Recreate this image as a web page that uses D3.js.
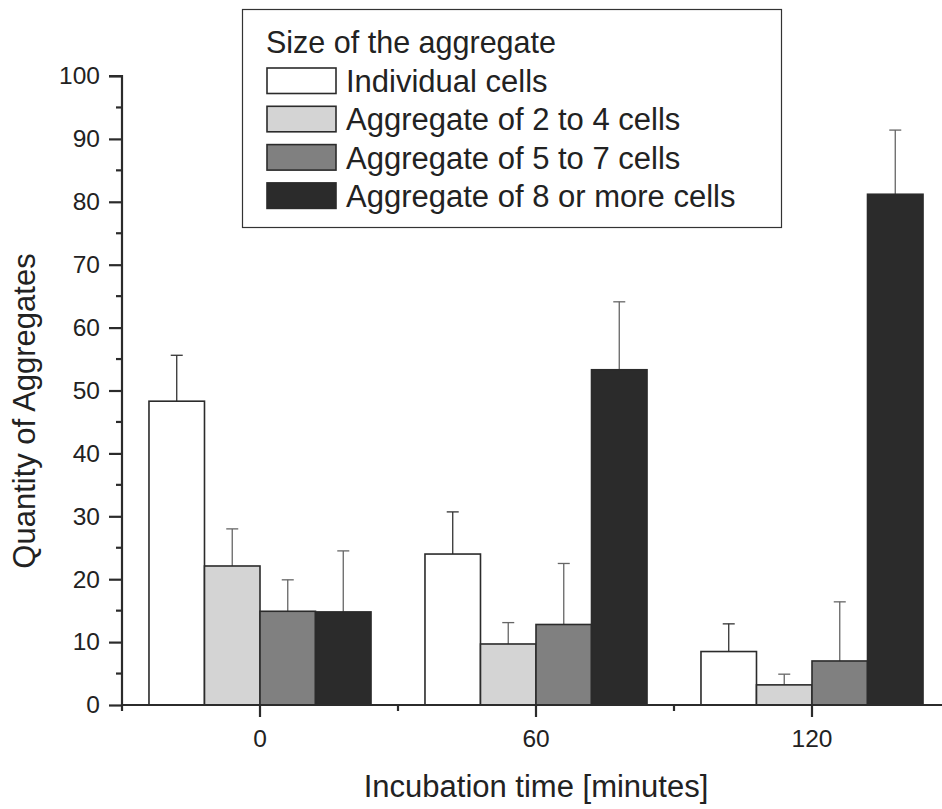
<!DOCTYPE html>
<html>
<head>
<meta charset="utf-8">
<script src="https://cdn.jsdelivr.net/npm/d3@7"></script>
<style>
  body { margin: 0; background: #fff; }
  svg { display: block; font-family: "Liberation Sans", Arial, sans-serif; }
</style>
</head>
<body>
<svg width="942" height="809"></svg>
<script>
const svg = d3.select("svg");

// data
const times = ["0", "60", "120"];
const sizes = ["Individual cells", "Aggregate of 2 to 4 cells", "Aggregate of 5 to 7 cells", "Aggregate of 8 or more cells"];
const means = [
    [48.3, 24.0, 8.5],   // individual
    [22.1, 9.7, 3.2],    // 2-4
    [14.9, 12.8, 7.0],   // 5-7
    [14.8, 53.3, 81.2]   // 8+
];
const errors = [
    [7.3, 6.7, 4.4],
    [5.9, 3.4, 1.7],
    [5.0, 9.7, 9.4],
    [9.7, 10.8, 10.2]
];
const fills = ["#ffffff", "#d4d4d4", "#808080", "#2b2b2b"];
const yTicks = d3.range(0, 101, 10);

const mLeft = 122, mBottom = 705, mTop = 76;

const x = d3.scaleBand().domain(times).range([mLeft, mLeft + 276 * 3]).paddingInner(0).paddingOuter(0);
const xs = d3.scaleBand().domain(d3.range(4)).range([0, x.bandwidth()]).paddingInner(0).paddingOuter(0.486);
const y = d3.scaleLinear().domain([0, 100]).range([mBottom, mTop]);

// bars
const rows = [];
sizes.forEach((s, i) => times.forEach((t, j) => rows.push({ s: i, t: t, v: means[i][j], e: errors[i][j] })));

const g = svg.append("g");

// error bars (upper only), drawn under bars
const eb = g.selectAll(".err").data(rows).enter().append("g")
    .attr("stroke", d => d.s === 0 ? "#333" : "#666")
    .attr("stroke-width", 1.3);
eb.append("line")
    .attr("x1", d => x(d.t) + xs(d.s) + xs.bandwidth() / 2)
    .attr("x2", d => x(d.t) + xs(d.s) + xs.bandwidth() / 2)
    .attr("y1", d => y(d.v))
    .attr("y2", d => y(d.v + d.e));
eb.append("line")
    .attr("x1", d => x(d.t) + xs(d.s) + xs.bandwidth() / 2 - 6)
    .attr("x2", d => x(d.t) + xs(d.s) + xs.bandwidth() / 2 + 6)
    .attr("y1", d => y(d.v + d.e))
    .attr("y2", d => y(d.v + d.e));

g.selectAll(".bar").data(rows).enter().append("rect")
    .attr("x", d => x(d.t) + xs(d.s))
    .attr("y", d => y(d.v))
    .attr("width", xs.bandwidth())
    .attr("height", d => mBottom - y(d.v))
    .attr("fill", d => fills[d.s])
    .attr("stroke", "#2b2b2b")
    .attr("stroke-width", 1.6);

// y axis
const yAxis = svg.append("g")
    .attr("transform", `translate(${mLeft},0)`)
    .call(d3.axisLeft(y).tickValues(yTicks).tickSize(13).tickPadding(9));
yAxis.append("g").selectAll("line").data(d3.range(5, 100, 10)).enter().append("line")
    .attr("x1", -6).attr("x2", 0)
    .attr("y1", d => y(d)).attr("y2", d => y(d));

// x axis
const xAxis = svg.append("g")
    .attr("transform", `translate(0,${mBottom})`)
    .call(d3.axisBottom(x).tickSize(12).tickPadding(13).tickSizeOuter(0));
xAxis.append("g").selectAll("line").data(d3.range(4)).enter().append("line")
    .attr("x1", d => mLeft + 276 * d).attr("x2", d => mLeft + 276 * d)
    .attr("y1", 0).attr("y2", 6);

[yAxis, xAxis].forEach(a => {
    a.select(".domain").attr("stroke", "#2b2b2b").attr("stroke-width", 2.2);
    a.selectAll("line").attr("stroke", "#2b2b2b").attr("stroke-width", 2.2);
    a.selectAll("text").attr("fill", "#222").style("font-size", "24.5px").style("font-family", "Liberation Sans, Arial, sans-serif");
});
yAxis.select(".domain").attr("d", `M0,${mBottom}V${mTop}H-13`);
xAxis.select(".domain").attr("d", `M${mLeft},0H950`);

// axis titles
svg.append("text")
    .attr("transform", "translate(35,411) rotate(-90)")
    .attr("text-anchor", "middle")
    .attr("fill", "#222")
    .style("font-size", "31px")
    .text("Quantity of Aggregates");
svg.append("text")
    .attr("x", x("60") + x.bandwidth() / 2)
    .attr("y", 797)
    .attr("text-anchor", "middle")
    .attr("fill", "#222")
    .style("font-size", "31px")
    .text("Incubation time [minutes]");

// legend
const lg = svg.append("g");
lg.append("rect")
    .attr("x", 242.5).attr("y", 9.5).attr("width", 539).attr("height", 218)
    .attr("fill", "#fff").attr("stroke", "#333").attr("stroke-width", 1.2);
lg.append("text")
    .attr("x", 266).attr("y", 53)
    .attr("fill", "#222").style("font-size", "30.5px")
    .text("Size of the aggregate");
const item = lg.selectAll(".item").data(sizes).enter().append("g")
    .attr("transform", (d, i) => `translate(0,${68 + i * 38.3})`);
item.append("rect")
    .attr("x", 267).attr("y", 0).attr("width", 69).attr("height", 25.5)
    .attr("fill", (d, i) => fills[i])
    .attr("stroke", "#2b2b2b").attr("stroke-width", 1.6);
item.append("text")
    .attr("x", 346).attr("y", 24)
    .attr("fill", "#222").style("font-size", "31px")
    .text(d => d);
</script>
</body>
</html>
